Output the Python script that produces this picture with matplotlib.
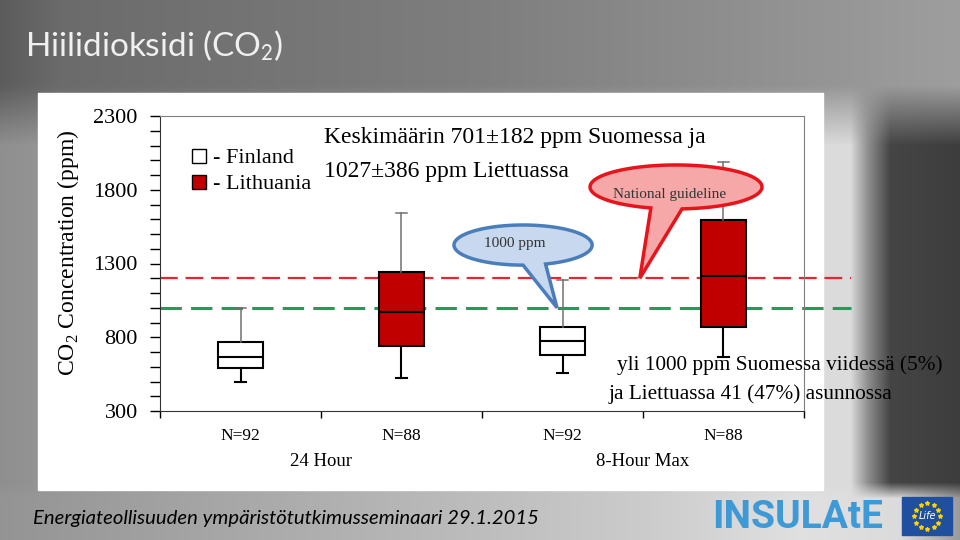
import numpy as np
import matplotlib.pyplot as plt
from matplotlib.lines import Line2D
from matplotlib.patches import Polygon, Rectangle

plt.rcParams['mathtext.fontset'] = 'custom'
plt.rcParams['mathtext.rm'] = 'Liberation Serif'
serif = 'Liberation Serif'

# Box statistics (ppm), order: Finland 24h, Lithuania 24h, Finland 8h, Lithuania 8h
countries = ['Finland', 'Lithuania', 'Finland', 'Lithuania']
n_labels = ['N=92', 'N=88', 'N=92', 'N=88']
groups = ['24 Hour', '8-Hour Max']
whislo = [497, 524, 558, 666]
q1 = [592, 741, 680, 870]
med = [666, 971, 775, 1215]
q3 = [768, 1242, 870, 1595]
whishi = [998, 1642, 1188, 1988]
guide_1000 = 1000
guide_national = 1200

box_colors = {'Finland': 'white', 'Lithuania': '#c00000'}

W, H = 960, 540
fig = plt.figure(figsize=(9.6, 5.4), dpi=100)

# slide background (grey photo-like gradient)
bg = fig.add_axes([0, 0, 1, 1])
xs = np.arange(W)
top = np.interp(xs, [0, 60, 500, 960], [0.36, 0.42, 0.50, 0.62])
mid = np.interp(xs, [0, 38, 823, 850, 868, 890, 960], [0.56, 0.58, 0.86, 0.86, 0.55, 0.27, 0.24])
bot = np.interp(xs, [0, 300, 650, 800, 900, 960], [0.58, 0.68, 0.80, 0.88, 0.86, 0.6])
ys = np.arange(H)[:, None]
w1 = np.clip((ys - 85) / 60, 0, 1)
w2 = np.clip((ys - 482) / 16, 0, 1)
gray = top * (1 - w1) + mid * w1
gray = gray * (1 - w2) + bot * w2
bg.imshow(np.dstack([gray, gray, gray]), extent=[0, W, H, 0], aspect='auto')
bg.set_xlim(0, W)
bg.set_ylim(H, 0)
bg.axis('off')
bg.add_patch(Rectangle((38, 93), 785, 397, color='white', zorder=2))

bg.text(25, 56, r'Hiilidioksidi (CO$_2$)', fontsize=24, color='#f0f0f0',
        family='Lato', math_fontfamily='stixsans', va='baseline')
bg.text(33, 524, 'Energiateollisuuden ympäristötutkimusseminaari 29.1.2015',
        fontsize=14.6, family='Lato', style='italic', color='black', va='baseline')

# logo
bg.text(798, 517, 'INSULAtE', fontsize=28, fontweight='bold', family='Roboto',
        color='#3d9ad6', ha='center', va='center', zorder=3)
bg.add_patch(Rectangle((902, 497), 50, 38, color='#1f4f9e', zorder=3))
ang = np.linspace(0, 2 * np.pi, 12, endpoint=False)
bg.scatter(927 + 13 * np.cos(ang), 516 + 13 * np.sin(ang), marker='*', s=8,
           color='#ffd200', zorder=4)
bg.text(927, 516, 'Life', fontsize=7, style='italic', color='white',
        ha='center', va='center', zorder=4)

# main axes
ax = fig.add_axes([160 / W, 1 - 411 / H, 644 / W, 295 / H])
ax.set_facecolor('none')
pos = np.arange(len(med)) + 0.5
stats = [dict(med=m, q1=a, q3=b, whislo=lo, whishi=hi, fliers=[])
         for m, a, b, lo, hi in zip(med, q1, q3, whislo, whishi)]
bp = ax.bxp(stats, positions=pos, widths=0.28, capwidths=0.07, patch_artist=True,
            showfliers=False,
            boxprops=dict(edgecolor='black', linewidth=1.5),
            medianprops=dict(color='black', linewidth=1.5),
            whiskerprops=dict(color='black', linewidth=1.5),
            capprops=dict(color='black', linewidth=1.5))
for patch, c in zip(bp['boxes'], countries):
    patch.set_facecolor(box_colors[c])
for i in range(len(med)):
    for art in (bp['whiskers'][2 * i + 1], bp['caps'][2 * i + 1]):
        art.set_color('#707070')
        art.set_linewidth(1.1)

x_end = 4.29
ax.plot([0, x_end], [guide_national] * 2, color='#e3262f', lw=1.6,
        ls=(0, (8, 3.5)), clip_on=False, zorder=1)
ax.plot([0, x_end], [guide_1000] * 2, color='#1f9e5a', lw=2.2,
        ls=(0, (7, 3)), clip_on=False, zorder=1)

ax.set_xlim(0, 4)
ax.set_ylim(300, 2300)
ax.set_yticks(np.arange(300, 2301, 500))
ax.set_yticks(np.arange(300, 2301, 100), minor=True)
ax.tick_params(axis='y', which='both', direction='out', length=7, width=1,
               labelsize=16, pad=9)
for lab in ax.get_yticklabels():
    lab.set_family(serif)
ax.set_xticks(np.arange(0, 5))
ax.set_xticklabels([])
ax.set_xticks(pos, minor=True)
ax.set_xticklabels(n_labels, minor=True, family=serif, fontsize=12.5)
ax.tick_params(axis='x', which='major', direction='out', length=5, width=1)
ax.tick_params(axis='x', which='minor', length=0, pad=12)
for s in ['left', 'bottom']:
    ax.spines[s].set_color('#333333')
for s in ['top', 'right']:
    ax.spines[s].set_color('#808080')

for k, g in enumerate(groups):
    bg.text(321 + 322 * k, 462, g, family=serif, fontsize=13.5, ha='center',
            va='center', zorder=3)

bg.text(68, 253, r'CO$_2$ Concentration (ppm)', rotation=90, family=serif,
        fontsize=17, ha='center', va='center', zorder=3)


def callout(cx, cy, a, b, t1, t2, tip, face, edge):
    t = np.radians(np.linspace(t2, t1 + 360, 200))
    pts = np.column_stack([cx + a * np.cos(t), cy + b * np.sin(t)])
    pts = np.vstack([pts, tip])
    ax.add_patch(Polygon(pts, closed=True, facecolor=face, edgecolor=edge,
                         linewidth=2.5, zorder=4, clip_on=False))


callout(2.255, 1425, 0.429, 136, -90, -71, (2.466, guide_1000), '#c8d8ee', '#4a7ebb')
ax.text(2.205, 1435, '1000 ppm', family=serif, fontsize=11, color='#333333',
        ha='center', va='center', zorder=5)
callout(3.205, 1819, 0.534, 149, -107, -86, (2.98, guide_national), '#f6a8a8', '#e8141c')
ax.text(3.168, 1770, 'National guideline', family=serif, fontsize=11, color='#333333',
        ha='center', va='center', zorder=5)

handles = [Line2D([], [], marker='s', ls='none', markersize=10,
                  markerfacecolor=box_colors[c], markeredgecolor='black')
           for c in ['Finland', 'Lithuania']]
ax.legend(handles, ['- Finland', '- Lithuania'], loc='upper left',
          bbox_to_anchor=(0.03, 0.93), frameon=False, handlelength=0.8,
          handletextpad=0.2, labelspacing=0.25, borderpad=0,
          prop=dict(family=serif, size=16))

bg.text(324, 138, 'Keskimäärin 701±182 ppm Suomessa ja', family=serif, fontsize=17,
        va='center', zorder=3)
bg.text(324, 171, '1027±386 ppm Liettuassa', family=serif, fontsize=17,
        va='center', zorder=3)
txt_kw = dict(family=serif, fontsize=15.3, va='center')
fig.text(617 / W, 1 - 365 / H, 'yli 1000 ppm Suomessa viidessä (5%)', **txt_kw)
fig.text(609 / W, 1 - 394 / H, 'ja Liettuassa 41 (47%) asunnossa', **txt_kw)

plt.savefig('out.png', dpi=100)
